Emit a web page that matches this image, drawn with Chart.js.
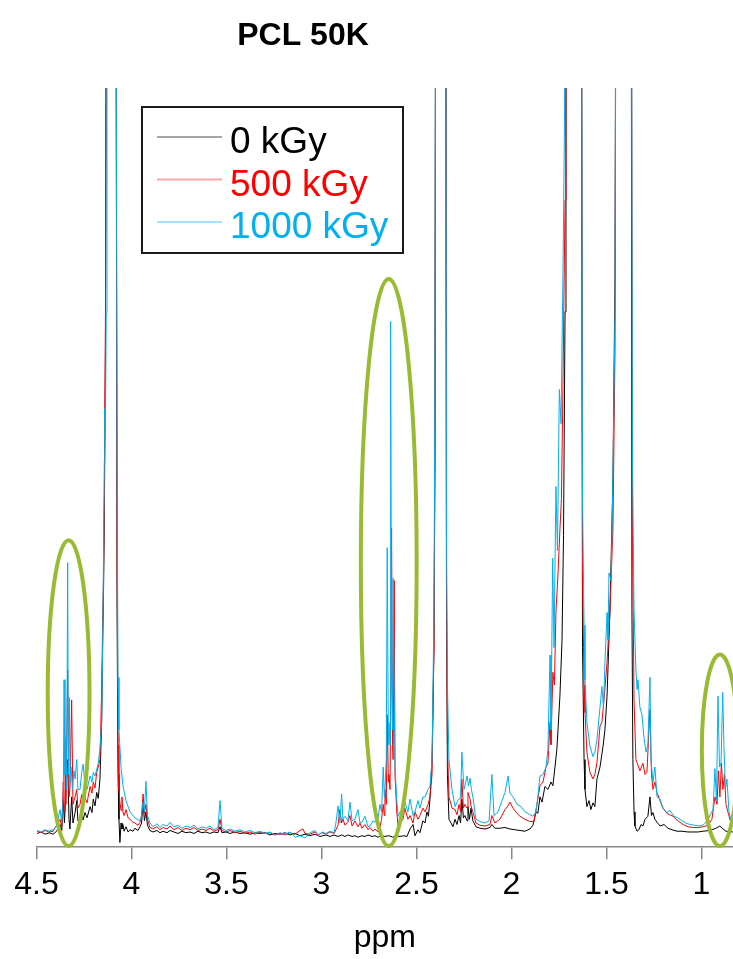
<!DOCTYPE html>
<html lang="en">
<head>
<meta charset="UTF-8">
<title>PCL 50K</title>
<script src="https://cdn.jsdelivr.net/npm/chart.js"></script>
<style>
  html, body { margin: 0; padding: 0; background: #fff; }
  canvas { display: block; }
</style>
</head>
<body>
<canvas id="nmr" width="733" height="959"></canvas>
<script>
// x axis ticks (ppm, reversed axis)
const tickValues = [4.5, 4, 3.5, 3, 2.5, 2, 1.5, 1];
const seriesNames = ['0 kGy', '500 kGy', '1000 kGy'];
const seriesColors = ['#000000', '#ff0000', '#00b0f0'];

// [ppm, intensity]; anything above 100 is off the top
const kGy0 = [[4.497,0.1],[4.476,0.3],[4.455,0.0],[4.434,0.2],[4.413,0.0],[4.394,0.4],[4.376,1.3],[4.367,0.5],[4.359,4.7],[4.353,1.5],[4.345,6.0],[4.336,10.0],[4.329,2.0],[4.324,0.7],[4.315,5.0],[4.308,1.5],[4.297,2.9],[4.288,4.5],[4.282,1.8],[4.271,2.0],[4.262,3.5],[4.255,1.9],[4.245,2.9],[4.234,2.2],[4.218,3.7],[4.208,2.9],[4.201,4.7],[4.192,3.8],[4.183,5.6],[4.175,4.8],[4.166,7.4],[4.157,15],[4.152,25],[4.147,33],[4.143,42],[4.137,65],[4.129,160],[4.084,160],[4.076,30],[4.071,8],[4.066,2],[4.061,-1.1],[4.055,1.5],[4.050,0.7],[4.045,1.3],[4.039,0.4],[4.029,1.0],[4.018,0.3],[4.008,0.6],[3.992,0.4],[3.982,0.8],[3.966,0.5],[3.955,1.0],[3.947,1.5],[3.939,4.3],[3.932,1.8],[3.924,3.0],[3.916,1.2],[3.903,0.5],[3.887,0.3],[3.866,0.5],[3.850,0.2],[3.834,0.4],[3.813,0.2],[3.797,0.5],[3.776,0.3],[3.755,0.1],[3.734,0.4],[3.713,0.2],[3.692,0.3],[3.671,0.1],[3.650,0.4],[3.629,0.2],[3.608,0.3],[3.587,0.1],[3.566,0.3],[3.545,0.2],[3.534,1.0],[3.524,0.2],[3.503,0.3],[3.482,0.1],[3.455,0.3],[3.429,0.1],[3.403,0.2],[3.376,0.0],[3.350,0.2],[3.324,0.1],[3.297,0.2],[3.271,-0.1],[3.245,0.1],[3.218,0.0],[3.192,0.2],[3.166,-0.1],[3.139,0.1],[3.113,-0.2],[3.087,0.0],[3.061,-0.2],[3.034,0.0],[3.008,-0.3],[2.976,-0.1],[2.955,-0.3],[2.934,-0.1],[2.913,-0.3],[2.894,-0.1],[2.876,-0.3],[2.861,-0.1],[2.839,-0.3],[2.824,-0.2],[2.808,-0.4],[2.787,-0.2],[2.771,-0.3],[2.755,-0.1],[2.734,-0.3],[2.718,-0.2],[2.703,-0.4],[2.684,-0.2],[2.666,-0.3],[2.645,-0.2],[2.626,-0.4],[2.608,-0.2],[2.587,-0.3],[2.566,-0.2],[2.550,-0.3],[2.534,0.7],[2.518,1.3],[2.508,-0.2],[2.492,0.6],[2.482,0.2],[2.466,1.8],[2.455,1.5],[2.445,3.0],[2.437,2.4],[2.429,4.7],[2.418,10],[2.408,25],[2.403,50],[2.397,160],[2.347,160],[2.342,30],[2.337,8],[2.329,2.0],[2.318,1.5],[2.308,1.0],[2.297,2.0],[2.287,1.3],[2.276,2.5],[2.268,1.5],[2.261,4.7],[2.253,2.2],[2.245,2.5],[2.234,1.8],[2.229,3.7],[2.221,2.0],[2.213,3.5],[2.203,1.8],[2.187,1.0],[2.166,0.8],[2.139,0.7],[2.113,0.9],[2.103,1.3],[2.087,0.8],[2.061,0.8],[2.034,0.9],[2.008,0.7],[1.982,0.6],[1.955,0.5],[1.929,0.4],[1.903,0.7],[1.887,1.2],[1.871,3.0],[1.861,2.8],[1.850,5.0],[1.839,4.3],[1.824,6.4],[1.808,6.0],[1.792,7.0],[1.782,6.5],[1.771,9.0],[1.761,11.4],[1.745,18.5],[1.734,26],[1.726,40],[1.718,70],[1.713,160],[1.634,160],[1.626,25],[1.618,10],[1.613,6.0],[1.603,3.7],[1.592,4.5],[1.582,3.3],[1.571,4.2],[1.561,3.7],[1.550,7.4],[1.534,9.0],[1.518,11.8],[1.508,14],[1.497,18.5],[1.482,29.7],[1.466,47.5],[1.455,75],[1.447,160],[1.371,160],[1.366,30],[1.361,10],[1.355,3.0],[1.350,1.1],[1.339,0.4],[1.329,0.6],[1.318,1.3],[1.308,1.1],[1.297,2.0],[1.282,2.4],[1.271,5.0],[1.263,2.5],[1.255,2.9],[1.245,2.0],[1.234,1.6],[1.218,1.1],[1.197,1.3],[1.176,0.8],[1.155,0.6],[1.129,0.4],[1.103,0.4],[1.071,0.3],[1.045,0.3],[1.018,0.3],[0.992,0.4],[0.955,0.5],[0.924,0.8],[0.903,1.1],[0.887,0.7],[0.871,0.4],[0.834,0.3]];

const kGy500 = [[4.497,0.4],[4.476,0.2],[4.455,0.5],[4.434,0.3],[4.413,0.4],[4.394,1.2],[4.376,2.0],[4.367,1.0],[4.359,7.0],[4.354,3.0],[4.350,12.3],[4.345,4.0],[4.336,22],[4.329,5.0],[4.324,6.0],[4.315,18],[4.308,4.0],[4.297,5.0],[4.288,6.0],[4.282,3.5],[4.271,4.0],[4.262,5.3],[4.255,3.8],[4.245,4.9],[4.234,4.2],[4.218,6.4],[4.208,5.5],[4.201,7.0],[4.192,6.2],[4.183,8.3],[4.175,9.0],[4.166,10],[4.157,19.4],[4.152,28],[4.147,35],[4.143,45],[4.137,70],[4.129,160],[4.084,160],[4.076,40],[4.071,12],[4.066,6.0],[4.061,4.3],[4.055,3.2],[4.050,5.0],[4.045,3.0],[4.039,2.5],[4.029,3.3],[4.018,2.2],[4.008,2.0],[3.992,1.6],[3.982,1.5],[3.966,1.2],[3.955,1.6],[3.947,2.5],[3.939,5.4],[3.932,2.8],[3.924,4.0],[3.916,2.0],[3.903,0.9],[3.887,0.7],[3.866,1.0],[3.850,0.6],[3.834,0.9],[3.813,0.7],[3.797,1.1],[3.776,0.6],[3.755,0.9],[3.734,0.5],[3.713,0.8],[3.692,0.6],[3.671,0.9],[3.650,0.5],[3.629,0.7],[3.608,0.5],[3.587,0.8],[3.566,0.4],[3.545,0.6],[3.534,2.0],[3.524,0.5],[3.503,0.3],[3.482,0.5],[3.455,0.2],[3.429,0.4],[3.403,0.1],[3.376,0.3],[3.350,0.0],[3.324,0.3],[3.297,0.1],[3.271,0.2],[3.245,-0.1],[3.218,0.1],[3.192,-0.1],[3.166,0.2],[3.139,0.0],[3.113,0.5],[3.097,0.7],[3.087,0.1],[3.061,0.0],[3.034,0.3],[3.018,-0.1],[2.997,0.2],[2.976,0.0],[2.955,0.3],[2.934,0.1],[2.924,0.6],[2.913,1.2],[2.903,3.3],[2.894,1.5],[2.887,2.0],[2.876,1.2],[2.861,1.6],[2.850,2.5],[2.839,1.1],[2.824,1.8],[2.808,1.0],[2.797,1.5],[2.787,0.8],[2.771,1.3],[2.755,0.6],[2.745,0.9],[2.729,0.4],[2.718,0.7],[2.703,0.3],[2.692,0.9],[2.684,2.0],[2.675,4.0],[2.669,2.5],[2.666,6.0],[2.659,4.0],[2.654,16],[2.648,7.0],[2.645,8.0],[2.639,6.0],[2.631,41],[2.626,12],[2.623,10],[2.617,34],[2.613,8.0],[2.604,3.0],[2.597,1.2],[2.587,1.5],[2.571,2.0],[2.561,3.5],[2.545,2.0],[2.534,2.5],[2.518,1.5],[2.508,3.0],[2.492,2.0],[2.482,2.5],[2.466,3.5],[2.455,3.0],[2.439,4.0],[2.429,5.0],[2.418,8.0],[2.408,25],[2.403,50],[2.397,160],[2.347,160],[2.342,35],[2.337,12],[2.329,5.0],[2.313,3.5],[2.297,3.3],[2.287,2.6],[2.276,4.0],[2.268,3.0],[2.261,7.4],[2.253,3.5],[2.245,4.0],[2.234,3.5],[2.229,5.6],[2.218,4.7],[2.213,3.8],[2.203,3.0],[2.187,1.5],[2.166,1.2],[2.139,1.1],[2.113,1.3],[2.103,2.5],[2.087,1.5],[2.061,2.0],[2.034,3.3],[2.018,3.8],[2.008,4.3],[1.992,3.5],[1.971,2.8],[1.955,2.4],[1.929,2.0],[1.903,1.7],[1.882,1.7],[1.866,4.0],[1.850,6.5],[1.834,7.0],[1.818,9.0],[1.808,9.5],[1.797,15],[1.792,12],[1.782,21.7],[1.774,20],[1.766,29.7],[1.755,35],[1.745,40.8],[1.737,45],[1.729,60],[1.718,85],[1.713,160],[1.634,160],[1.626,35],[1.618,20],[1.613,16.3],[1.603,11],[1.587,8.3],[1.571,7.4],[1.561,8.0],[1.550,9.6],[1.534,14.5],[1.524,15],[1.513,18],[1.497,23],[1.482,29.7],[1.466,40.8],[1.455,65],[1.447,160],[1.371,160],[1.363,40],[1.355,18],[1.345,10],[1.339,9.6],[1.324,8.5],[1.308,9.5],[1.297,8.0],[1.287,8.3],[1.271,16.7],[1.263,8.0],[1.255,6.0],[1.245,7.0],[1.234,5.6],[1.218,4.5],[1.203,3.5],[1.182,2.8],[1.166,2.6],[1.150,2.4],[1.124,1.8],[1.097,1.3],[1.071,1.0],[1.045,0.9],[1.018,0.9],[0.992,1.0],[0.966,1.2],[0.945,2.0],[0.929,5.0],[0.918,4.0],[0.911,8.5],[0.903,5.0],[0.895,9.5],[0.887,6.0],[0.879,8.0],[0.871,4.0],[0.861,3.0],[0.845,1.5],[0.834,1.2]];

const kGy1000 = [[4.497,0.5],[4.476,0.3],[4.455,0.6],[4.434,0.4],[4.413,0.6],[4.394,1.1],[4.376,3.3],[4.367,1.5],[4.359,5.0],[4.355,20.7],[4.350,8.0],[4.346,13],[4.341,6.0],[4.336,36.4],[4.332,8.0],[4.327,18.3],[4.323,7.0],[4.318,9.0],[4.311,6.0],[4.303,8.5],[4.297,7.4],[4.288,10],[4.282,6.0],[4.271,6.0],[4.262,8.3],[4.254,9.4],[4.245,6.4],[4.234,6.0],[4.218,7.8],[4.208,7.0],[4.201,8.3],[4.192,7.8],[4.183,8.7],[4.175,9.5],[4.166,11.4],[4.157,15],[4.152,25],[4.147,38],[4.143,50],[4.141,57],[4.137,55],[4.133,70],[4.129,160],[4.084,160],[4.076,50],[4.071,21],[4.066,14],[4.055,9.0],[4.045,6.5],[4.029,4.5],[4.008,3.0],[3.982,2.2],[3.955,1.8],[3.947,2.5],[3.939,4.3],[3.932,3.0],[3.924,7.1],[3.916,2.5],[3.903,1.5],[3.887,1.0],[3.866,1.4],[3.850,0.9],[3.834,1.3],[3.813,1.1],[3.797,1.6],[3.776,1.0],[3.755,1.2],[3.734,0.8],[3.713,1.1],[3.692,0.9],[3.671,1.2],[3.650,0.7],[3.629,1.0],[3.608,0.8],[3.587,1.1],[3.566,0.6],[3.545,0.9],[3.534,4.5],[3.524,0.8],[3.503,0.5],[3.482,0.7],[3.455,0.4],[3.429,0.6],[3.403,0.3],[3.376,0.5],[3.350,0.2],[3.324,0.4],[3.297,0.1],[3.271,0.3],[3.245,-0.1],[3.218,0.2],[3.192,0.0],[3.166,0.3],[3.139,-0.4],[3.113,-0.2],[3.087,-0.5],[3.061,0.2],[3.034,0.5],[3.018,-0.2],[2.997,0.3],[2.976,0.1],[2.955,0.4],[2.934,0.2],[2.924,1.5],[2.913,3.8],[2.903,1.5],[2.894,5.4],[2.887,2.0],[2.876,2.4],[2.861,1.8],[2.850,4.3],[2.839,1.8],[2.824,2.0],[2.808,3.3],[2.797,1.5],[2.787,1.6],[2.771,2.4],[2.755,1.0],[2.745,1.1],[2.729,1.8],[2.718,1.6],[2.703,2.0],[2.692,4.0],[2.684,3.0],[2.675,9.0],[2.669,5.0],[2.666,6.0],[2.659,10],[2.654,38.4],[2.648,12],[2.645,15],[2.639,12],[2.636,68.7],[2.631,20],[2.626,14],[2.623,34.3],[2.617,18],[2.613,9.0],[2.604,4.7],[2.597,2.4],[2.587,3.0],[2.571,2.5],[2.561,4.3],[2.545,3.0],[2.534,4.7],[2.518,2.5],[2.508,3.0],[2.492,4.5],[2.482,3.5],[2.466,5.0],[2.455,5.0],[2.439,6.0],[2.429,6.4],[2.418,10],[2.408,30],[2.403,60],[2.397,160],[2.347,160],[2.342,40],[2.337,20],[2.329,10],[2.313,6.0],[2.297,3.7],[2.282,4.5],[2.268,5.0],[2.261,11],[2.250,6.0],[2.245,6.5],[2.234,7.8],[2.226,6.5],[2.218,7.5],[2.211,6.0],[2.203,5.0],[2.187,2.0],[2.166,1.7],[2.139,1.5],[2.118,1.8],[2.103,8.0],[2.092,2.5],[2.071,3.0],[2.050,4.5],[2.034,5.6],[2.018,7.8],[2.008,5.5],[1.992,5.0],[1.971,4.0],[1.950,3.7],[1.929,3.0],[1.908,2.7],[1.887,2.4],[1.871,3.0],[1.861,5.0],[1.850,7.8],[1.834,8.0],[1.818,9.0],[1.808,11.4],[1.797,24],[1.792,14],[1.783,37],[1.776,25],[1.766,46.6],[1.758,38],[1.748,59.6],[1.739,55],[1.729,75],[1.721,95],[1.713,160],[1.634,160],[1.626,45],[1.618,28],[1.613,20.7],[1.603,15],[1.587,11.8],[1.571,10.4],[1.561,11],[1.550,12.7],[1.534,17],[1.524,19.8],[1.516,17],[1.508,23],[1.497,29.7],[1.492,26],[1.487,35],[1.476,34],[1.466,47.5],[1.455,70],[1.447,160],[1.371,160],[1.363,50],[1.355,30],[1.345,22],[1.339,19.4],[1.334,20.7],[1.324,17],[1.313,16],[1.303,13],[1.292,11],[1.282,12],[1.271,21],[1.266,10],[1.255,7.0],[1.245,9.0],[1.234,5.0],[1.218,4.7],[1.203,3.5],[1.182,2.9],[1.166,3.2],[1.145,2.4],[1.124,2.2],[1.103,1.8],[1.082,1.5],[1.061,1.3],[1.034,1.2],[1.008,1.1],[0.987,1.3],[0.966,1.9],[0.950,2.8],[0.939,3.3],[0.929,8.8],[0.921,4.5],[0.913,18.5],[0.905,9.0],[0.897,9.5],[0.888,19],[0.882,12],[0.874,6.0],[0.866,7.4],[0.855,3.0],[0.845,1.9],[0.834,1.5]];

const FONT = '"Liberation Sans", Arial, sans-serif';

// green rings around the new peaks, in data units (ppm centre, ppm half width, intensity top/bottom)
const rings = [
  { ppm: 4.331, half: 0.110, top: 39.4, bottom: -1.6 },
  { ppm: 2.646, half: 0.147, top: 74.4, bottom: -1.6 },
  { ppm: 0.903, half: 0.095, top: 24.1, bottom: -1.6 }
];

const ringPlugin = {
  id: 'rings',
  afterDatasetsDraw(chart) {
    const { ctx, scales: { x, y } } = chart;
    ctx.save();
    ctx.strokeStyle = '#99bb33';
    ctx.lineWidth = 4;
    rings.forEach(r => {
      const cx = x.getPixelForValue(r.ppm);
      const rx = Math.abs(x.getPixelForValue(r.ppm - r.half) - cx);
      const yt = y.getPixelForValue(r.top);
      const yb = y.getPixelForValue(r.bottom);
      ctx.beginPath();
      ctx.ellipse(cx, (yt + yb) / 2, rx, (yb - yt) / 2, 0, 0, Math.PI * 2);
      ctx.stroke();
    });
    ctx.restore();
  }
};

const titleAndLegend = {
  id: 'titleAndLegend',
  afterDraw(chart) {
    const ctx = chart.ctx;
    ctx.save();
    ctx.fillStyle = '#000';
    ctx.font = 'bold 32px ' + FONT;
    ctx.textAlign = 'center';
    ctx.textBaseline = 'alphabetic';
    ctx.fillText('PCL 50K', 303, 45);

    // boxed legend
    ctx.lineWidth = 2;
    ctx.strokeStyle = '#1a1a1a';
    ctx.strokeRect(142, 107, 261, 146);
    ctx.font = '37px ' + FONT;
    ctx.textAlign = 'left';
    chart.data.datasets.forEach((ds, i) => {
      const base = 153 + i * 42.5;
      ctx.globalAlpha = 0.35;
      ctx.strokeStyle = ds.borderColor;
      ctx.lineWidth = 2;
      ctx.beginPath();
      ctx.moveTo(157, base - 16);
      ctx.lineTo(222, base - 16);
      ctx.stroke();
      ctx.globalAlpha = 1;
      ctx.fillStyle = ds.borderColor;
      ctx.fillText(ds.label, 230, base);
    });
    ctx.restore();
  }
};

const toPoints = arr => arr.map(p => ({ x: p[0], y: p[1] }));
const series = [kGy0, kGy500, kGy1000];

new Chart(document.getElementById('nmr'), {
  type: 'line',
  data: {
    datasets: series.map((s, i) => ({
      label: seriesNames[i],
      data: toPoints(s),
      borderColor: seriesColors[i],
      borderWidth: 1,
      pointRadius: 0,
      tension: 0,
      fill: false,
      order: 3 - i
    }))
  },
  options: {
    responsive: false,
    animation: false,
    layout: { padding: { left: 36.5, right: 0, top: 88, bottom: 0 } },
    plugins: {
      legend: { display: false },
      title: { display: false },
      tooltip: { enabled: false }
    },
    scales: {
      x: {
        type: 'linear',
        reverse: true,
        min: 0.834,
        max: 4.5,
        afterBuildTicks: axis => { axis.ticks = tickValues.map(v => ({ value: v })); },
        grid: { drawOnChartArea: false, drawTicks: true, tickLength: 12, color: '#888', lineWidth: 1.5 },
        border: { display: true, color: '#888', width: 1.5 },
        ticks: {
          autoSkip: false,
          maxRotation: 0,
          padding: 7,
          color: '#000',
          font: { family: FONT, size: 32 },
          callback: v => String(v)
        },
        title: {
          display: true,
          text: 'ppm',
          color: '#000',
          font: { family: FONT, size: 32 },
          padding: { top: 7, bottom: 2 }
        }
      },
      y: {
        display: false,
        min: -1.74,
        max: 100
      }
    }
  },
  plugins: [ringPlugin, titleAndLegend]
});
</script>
</body>
</html>
